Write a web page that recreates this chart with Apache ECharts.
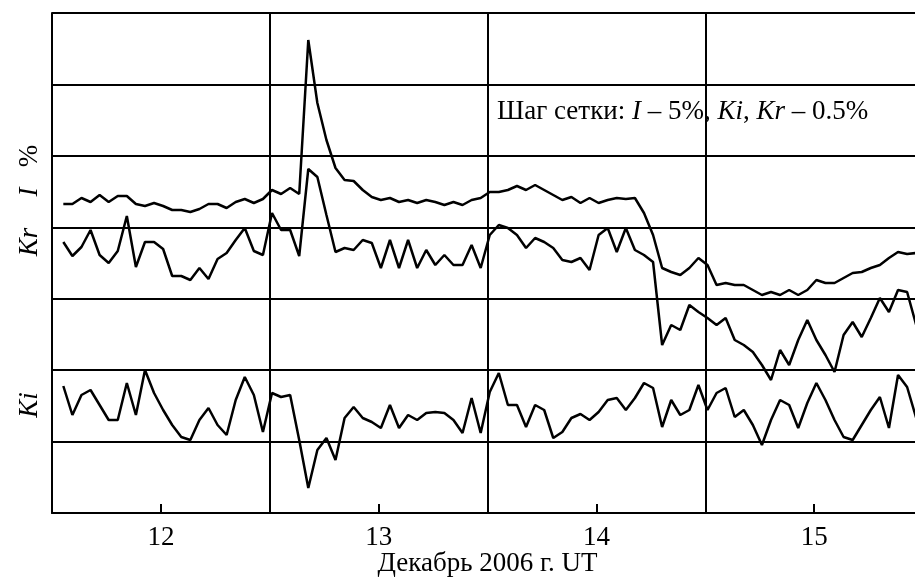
<!DOCTYPE html>
<html>
<head>
<meta charset="utf-8">
<script src="https://cdn.jsdelivr.net/npm/echarts@6/dist/echarts.min.js"></script>
<style>
  html, body { margin: 0; padding: 0; background: #fff; }
  #chart { width: 915px; height: 578px; }
</style>
</head>
<body>
<div id="chart"></div>
<script>
// hourly samples, first one at 11 Dec ~13 UT (days of December)
const startDay = 11.552
const stepDay = 1 / 24

// plot units: one grid step = 500/7 units (I - 5%, Ki, Kr - 0.5%)
const seriesI = [
  309, 309, 315, 311, 318, 311, 317, 317, 309, 307, 310, 307, 303, 303, 301, 304,
  309, 309, 305, 311, 314, 310, 314, 323, 319, 325, 319, 473, 410, 373, 345, 333,
  332, 323, 316, 313, 315, 311, 313, 310, 313, 311, 308, 311, 308, 313, 315, 321,
  321, 323, 327, 323, 328, 323, 318, 313, 316, 310, 315, 310, 313, 315, 314, 315,
  300, 278, 245, 241, 238, 245, 255, 248, 228, 230, 228, 228, 223, 218, 221, 218,
  223, 218, 223, 233, 230, 230, 235, 240, 241, 245, 248, 255, 261, 259, 260
]
const seriesKr = [
  271, 257, 266, 283, 258, 250, 262, 297, 246, 271, 271, 264, 237, 237, 233, 245,
  234, 254, 260, 273, 285, 262, 258, 300, 283, 283, 257, 344, 336, 298, 261, 265,
  263, 273, 270, 245, 273, 245, 273, 245, 263, 248, 258, 248, 248, 268, 245, 278,
  288, 285, 278, 265, 275, 271, 265, 253, 251, 255, 243, 278, 285, 261, 285, 263,
  258, 251, 168, 188, 183, 208, 201, 195, 188, 195, 173, 168, 161, 148, 133, 163,
  148, 173, 193, 173, 158, 141, 178, 191, 176, 195, 215, 201, 223, 221, 188
]
const seriesKi = [
  127, 98, 118, 123, 108, 93, 93, 130, 98, 143, 120, 103, 88, 76, 73, 93,
  105, 88, 78, 113, 136, 118, 81, 120, 116, 118, 73, 25, 63, 75, 53, 95,
  106, 95, 91, 85, 108, 85, 98, 93, 100, 101, 100, 93, 80, 115, 80, 121,
  140, 108, 108, 86, 108, 103, 75, 81, 95, 99, 93, 101, 113, 115, 103, 115,
  130, 125, 86, 113, 98, 103, 128, 103, 120, 125, 96, 103, 88, 68, 93, 113,
  108, 85, 110, 130, 113, 93, 76, 73, 88, 103, 116, 85, 138, 126, 95
]

const dayLabels = [12, 13, 14, 15]
const xMin = 11.5
const xMax = 15.5
const yMax = 500

const serif = 'Liberation Serif, Times New Roman, serif'
const fs = 27

function toPoints (vals) {
  return vals.map(function (v, i) { return [startDay + i * stepDay, v] })
}

function curve (name, vals) {
  return {
    name: name,
    type: 'line',
    xAxisIndex: 0,
    data: toPoints(vals),
    showSymbol: false,
    symbol: 'none',
    clip: true,
    lineStyle: { color: '#000', width: 2.5 }
  }
}

const myChart = echarts.init(document.getElementById('chart'), null, { renderer: 'canvas' })

const option = {
  animation: false,
  backgroundColor: '#fff',
  // right edge of the figure is cut just before 15.5
  grid: { left: 52, right: -8, top: 13, bottom: 65, outerBoundsMode: 'none', containLabel: false },
  xAxis: [{
    type: 'value',
    min: xMin,
    max: xMax,
    interval: 0.5,
    name: 'Декабрь 2006 г. UT',
    nameLocation: 'middle',
    nameGap: 37,
    nameMoveOverlap: false,
    nameTextStyle: { fontFamily: serif, fontSize: fs, color: '#000' },
    axisLine: { show: true, lineStyle: { color: '#000', width: 2 } },
    axisTick: { show: true, inside: true, length: 9, lineStyle: { color: '#000', width: 2 } },
    axisLabel: {
      margin: 11,
      fontFamily: serif,
      fontSize: fs,
      color: '#000',
      formatter: function (v) { return dayLabels.indexOf(v) >= 0 ? String(v) : '' }
    },
    splitLine: { show: false }
  }, {
    // vertical grid at half days
    type: 'value',
    min: xMin,
    max: xMax,
    interval: 1,
    position: 'bottom',
    axisLine: { show: false },
    axisTick: { show: false },
    axisLabel: { show: false },
    splitLine: { show: true, showMinLine: false, showMaxLine: false, lineStyle: { color: '#000', width: 2 } }
  }],
  yAxis: {
    type: 'value',
    min: 0,
    max: yMax,
    interval: yMax / 7,
    axisLine: { show: true, lineStyle: { color: '#000', width: 2 } },
    axisTick: { show: false },
    axisLabel: { show: false },
    splitLine: { show: true, showMinLine: false, showMaxLine: true, lineStyle: { color: '#000', width: 2 } }
  },
  graphic: [
    {
      type: 'text', x: 30, y: 156, rotation: Math.PI / 2,
      style: { text: '%', font: fs + 'px ' + serif, fill: '#000', align: 'center', verticalAlign: 'middle' }
    },
    {
      type: 'text', x: 30, y: 192, rotation: Math.PI / 2,
      style: { text: 'I', font: 'italic ' + fs + 'px ' + serif, fill: '#000', align: 'center', verticalAlign: 'middle' }
    },
    {
      type: 'text', x: 30, y: 242, rotation: Math.PI / 2,
      style: { text: 'Kr', font: 'italic ' + fs + 'px ' + serif, fill: '#000', align: 'center', verticalAlign: 'middle' }
    },
    {
      type: 'text', x: 30, y: 405, rotation: Math.PI / 2,
      style: { text: 'Ki', font: 'italic ' + fs + 'px ' + serif, fill: '#000', align: 'center', verticalAlign: 'middle' }
    },
    {
      type: 'text', x: 497, y: 112,
      style: {
        text: '{n|Шаг сетки: }{i|I}{n| – 5%, }{i|Ki}{n|, }{i|Kr}{n| – 0.5%}',
        align: 'left',
        verticalAlign: 'middle',
        rich: {
          n: { fontFamily: serif, fontSize: fs, fill: '#000', color: '#000' },
          i: { fontFamily: serif, fontSize: fs, fontStyle: 'italic', fill: '#000', color: '#000' }
        }
      }
    }
  ],
  series: [
    curve('I', seriesI),
    curve('Kr', seriesKr),
    curve('Ki', seriesKi)
  ]
}

myChart.setOption(option)
</script>
</body>
</html>
